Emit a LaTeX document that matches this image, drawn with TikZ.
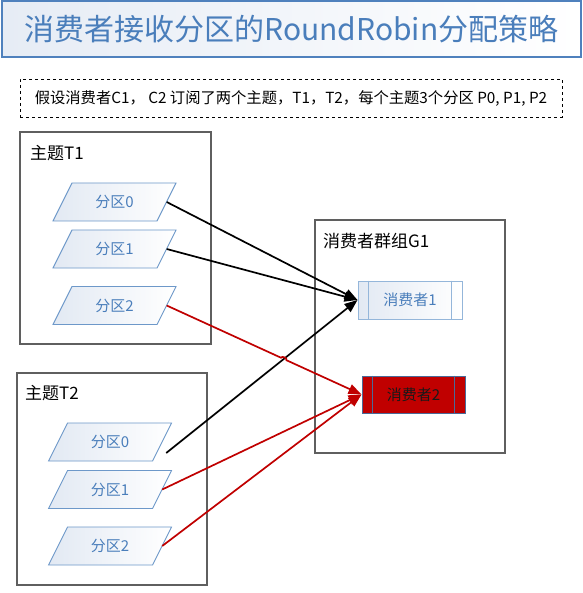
\documentclass[tikz,border=0pt]{standalone}
\usepackage{fontspec}
\setmainfont{Noto Sans CJK SC}
\usetikzlibrary{arrows.meta,calc,intersections}
\definecolor{tblue}{HTML}{4A7EBB}
\definecolor{tborder}{HTML}{4F81BD}
\definecolor{tlight}{HTML}{E6ECF5}
\definecolor{pborder}{HTML}{6D98C9}
\definecolor{plight}{HTML}{E2E9F3}
\definecolor{boxgray}{HTML}{5F5F5F}
\definecolor{darkred}{HTML}{C00000}
\definecolor{c1border}{HTML}{94B6DA}
\definecolor{c2border}{HTML}{4A6A98}
\tikzset{
  bigbox/.style={draw=boxgray, line width=1.2pt, fill=white, inner sep=0pt},
  boxlabel/.style={anchor=west, inner sep=0pt, font=\fontsize{17}{17}\selectfont, text=black},
  part/.style={minimum width=104pt, minimum height=38pt, inner sep=0pt, text=tblue, font=\fontsize{15}{15}\selectfont},
  partshape/.style={draw=pborder, left color=plight, right color=white, line width=0.9pt},
  blackarrow/.style={draw=black, line width=1.7pt, -{Triangle[length=13pt,width=10pt]}},
  redarrow/.style={draw=darkred, line width=1.7pt, -{Triangle[length=13pt,width=10pt]}},
}
\newcommand\partpara[4]{%
  \shade[partshape] (#2-61.5,#3+19) -- (#2-42.5,#3-19) -- (#2+61.5,#3-19) -- (#2+42.5,#3+19) -- cycle;
  \node[part] (#1) at (#2,#3) {#4};}
\begin{document}
\begin{tikzpicture}[x=1pt,y=-1pt]
\useasboundingbox (0,0) rectangle (582,593);
% title
\node[draw=tborder, line width=1.2pt, left color=tlight, right color=white,
      minimum width=579pt, minimum height=56pt, inner sep=0pt,
      text=tblue, font=\fontsize{30}{30}\selectfont] (title) at (291.5,29) {消费者接收分区的RoundRobin分配策略};
% description
\node[draw=black, dashed, line width=0.9pt, minimum width=542pt, minimum height=38pt, inner sep=0pt] (desc) at (291,98) {};
\node[font=\fontsize{15.3}{15.3}\selectfont, inner sep=0pt] (desctext) at (291,98) {假设消费者C1， C2 订阅了两个主题，T1，T2，每个主题3个分区 P0, P1, P2};
% big boxes
\node[bigbox, minimum width=191pt, minimum height=212pt] (t1) at (115.5,238) {};
\node[bigbox, minimum width=190pt, minimum height=212pt] (t2) at (112,479) {};
\node[bigbox, minimum width=190pt, minimum height=233pt] (g1) at (410,336.5) {};
\node[boxlabel] (t1lab) at (30,153) {主题T1};
\node[boxlabel] (t2lab) at (25,393) {主题T2};
\node[boxlabel] (g1lab) at (323,241) {消费者群组G1};
% partitions
\partpara{t1p0}{114.5}{202}{分区0}
\partpara{t1p1}{114.5}{249}{分区1}
\partpara{t1p2}{114.5}{305.5}{分区2}
\partpara{t2p0}{110}{442}{分区0}
\partpara{t2p1}{110}{489.5}{分区1}
\partpara{t2p2}{110}{546}{分区2}
% consumers
\node[draw=c1border, line width=1pt, left color=plight, right color=white,
      minimum width=104pt, minimum height=38pt, inner sep=0pt, text=tblue,
      font=\fontsize{15}{15}\selectfont] (c1) at (410,300) {消费者1};
\draw[c1border, line width=1pt] ($(c1.north west)+(11,0)$) -- ($(c1.south west)+(11,0)$)
  ($(c1.north east)+(-11,0)$) -- ($(c1.south east)+(-11,0)$);
\node[draw=c2border, line width=1pt, fill=darkred,
      minimum width=103pt, minimum height=37pt, inner sep=0pt, text=black!90,
      font=\fontsize{15}{15}\selectfont] (c2) at (413.5,394.5) {消费者2};
\draw[c2border, line width=1pt] ($(c2.north west)+(11,0)$) -- ($(c2.south west)+(11,0)$)
  ($(c2.north east)+(-11,0)$) -- ($(c2.south east)+(-11,0)$);
% connectors
\draw[blackarrow] (t1p0.east) -- (c1.west);
\draw[blackarrow] (t1p1.east) -- (c1.west);
\coordinate (t2p0s) at ($(t2p0.east)+(4,11)$);
\draw[blackarrow, name path=blk] (t2p0s) -- (c1.west);
\path[name path=redp] (t1p2.east) -- (c2.west);
\path[name intersections={of=blk and redp, by=hop}];
\draw[redarrow] (t1p2.east) -- ($(hop)!3pt!(t1p2.east)$) to[bend left=90] ($(hop)!3pt!(c2.west)$) -- (c2.west);
\draw[redarrow] (t2p1.east) -- (c2.west);
\draw[redarrow] (t2p2.east) -- (c2.west);
\end{tikzpicture}
\end{document}
